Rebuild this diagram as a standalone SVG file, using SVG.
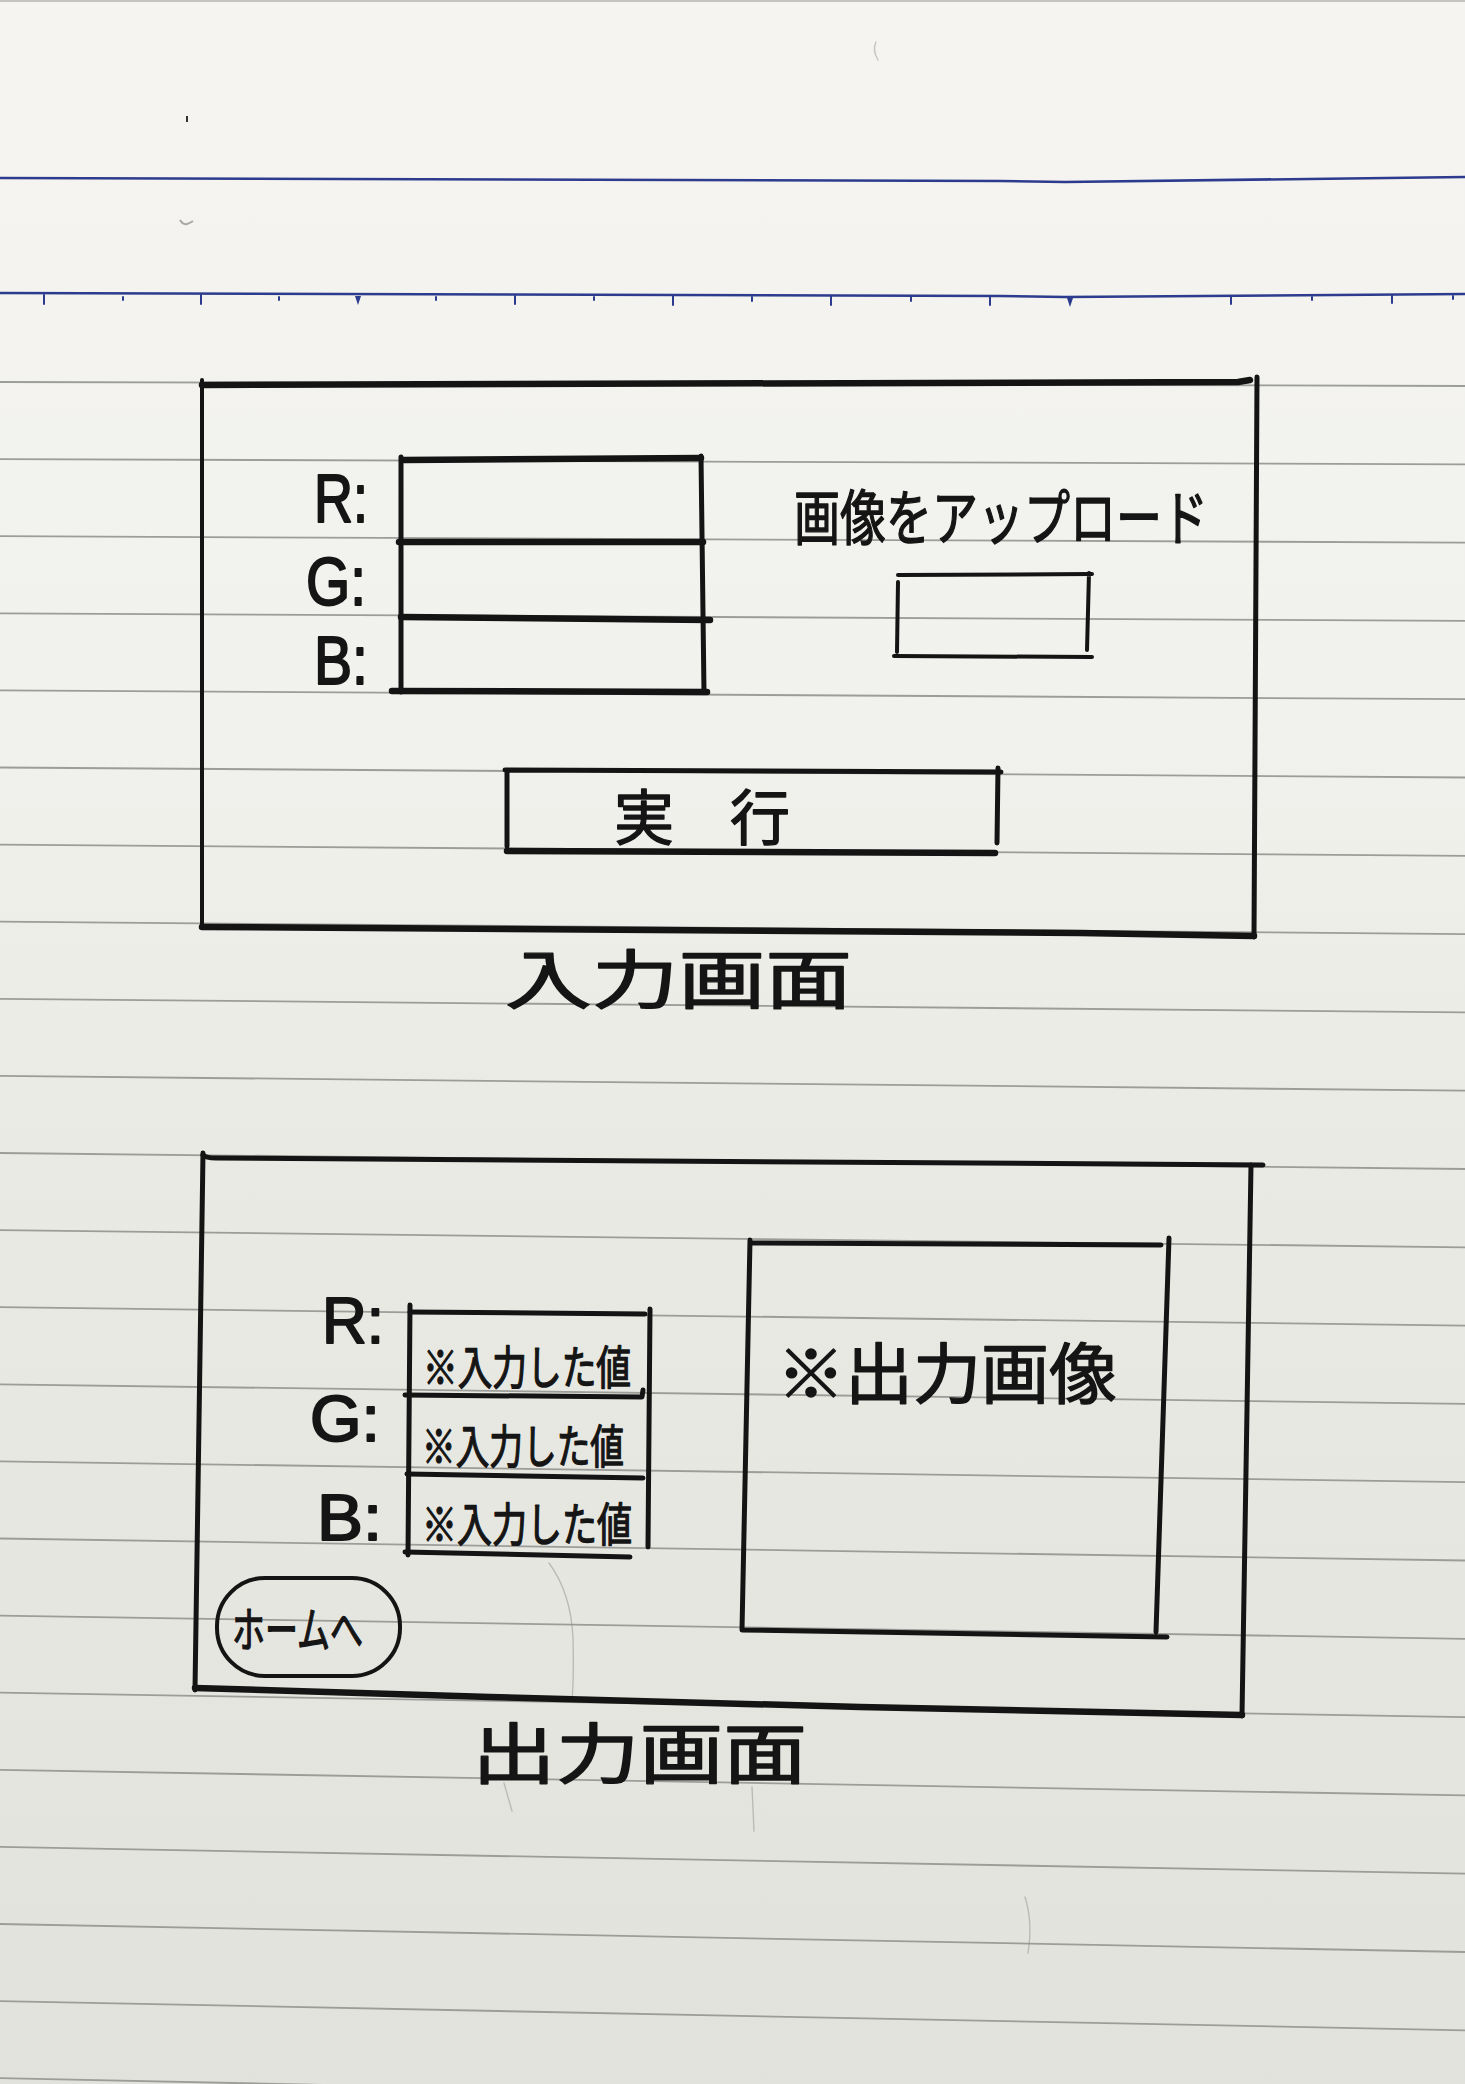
<svg xmlns="http://www.w3.org/2000/svg" width="1465" height="2084" viewBox="0 0 1465 2084">
<defs>
<linearGradient id="paper" x1="0" y1="0" x2="0" y2="1">
<stop offset="0" stop-color="#f5f4f0"/>
<stop offset="0.35" stop-color="#f1f1ed"/>
<stop offset="0.55" stop-color="#e9eae4"/>
<stop offset="1" stop-color="#e1e2dc"/>
</linearGradient>
<style>
.rule{stroke:#9c9d99;stroke-width:1.8;fill:none}
.blue{stroke:#2c3b8e;stroke-width:2.6;fill:none}
.tick{stroke:#2c3b8e;stroke-width:2;fill:none;stroke-linecap:round}
.ink{stroke:#141414;fill:none;stroke-linecap:round;stroke-linejoin:round;stroke-width:5}
.thick{stroke-width:6.5}
.thin{stroke-width:4}
.faint{stroke:#8a8a86;fill:none;stroke-width:1.4;opacity:0.45;stroke-linecap:round}
.lat{font-family:"Liberation Sans",Arial,sans-serif;fill:#151515;stroke:#151515;stroke-width:2;stroke-linejoin:round}
.jp{font-family:"Noto Sans CJK JP","Noto Sans CJK SC",sans-serif;fill:#151515;stroke:#151515;stroke-width:1.4;stroke-linejoin:round}
</style>
</defs>
<rect x="0" y="0" width="1465" height="2084" fill="url(#paper)"/>
<line x1="0" y1="1" x2="1465" y2="1" stroke="#c4c4c0" stroke-width="2"/>

<g id="paper-lines">
<path class="blue" d="M0,178 C400,178 700,179 1000,181 L1065,182 C1120,181 1250,179 1465,177"/>
<path class="blue" d="M0,293 C400,294 700,295 1000,296 L1065,297 C1120,296 1250,295 1465,294"/>
<g id="ticks">
<path class="tick" d="M44,295V304M201,295V304M515,296V304M673,296V305M831,296V305M990,297V305M1231,296V304M1392,295V303"/>
<path class="tick" d="M123,297V300M279,297V300M436,297V300M594,297V300M752,297V301M911,297V301M1312,297V300M1453,296V299"/>
<path d="M355,296L361,296L358,305Z M1067,298L1073,298L1070,307Z" fill="#2c3b8e"/>
</g>
<path class="rule" d="M0,382L1465,386"/>
<path class="rule" d="M0,459.1L1465,464.3"/>
<path class="rule" d="M0,536.2L1465,542.6"/>
<path class="rule" d="M0,613.3L1465,620.9"/>
<path class="rule" d="M0,690.4L1465,699.2"/>
<path class="rule" d="M0,767.5L1465,777.5"/>
<path class="rule" d="M0,844.6L1465,855.8"/>
<path class="rule" d="M0,921.7L1465,934.1"/>
<path class="rule" d="M0,998.8L1465,1012.4"/>
<path class="rule" d="M0,1075.9L1465,1090.7"/>
<path class="rule" d="M0,1153L1465,1169"/>
<path class="rule" d="M0,1230.1L1465,1247.3"/>
<path class="rule" d="M0,1307.2L1465,1325.6"/>
<path class="rule" d="M0,1384.3L1465,1403.9"/>
<path class="rule" d="M0,1461.4L1465,1482.2"/>
<path class="rule" d="M0,1538.5L1465,1560.5"/>
<path class="rule" d="M0,1615.6L1465,1638.8"/>
<path class="rule" d="M0,1692.7L1465,1717.1"/>
<path class="rule" d="M0,1769.8L1465,1795.4"/>
<path class="rule" d="M0,1846.9L1465,1873.7"/>
<path class="rule" d="M0,1924L1465,1952"/>
<path class="rule" d="M0,2001.1L1465,2030.3"/>
<path class="rule" d="M0,2078.2L1465,2108.6"/>
<path d="M187,116V122" stroke="#333" stroke-width="2"/>
<path d="M180,220q3,5 7,4q3,-1 6,-3" stroke="#777" stroke-width="2" fill="none" opacity="0.6"/>
<path class="faint" d="M876,42q-4,8 2,18"/>
<path class="faint" d="M549,1563q22,30 24,75q1,40 -1,62"/>
<path class="faint" d="M504,1783l8,28M752,1787l2,44"/>
<path class="faint" d="M1025,1897q8,25 3,56"/>
</g>

<g id="input-screen">
<g id="input-frame">
<path class="ink thick" d="M202,385L1238,382L1250,380"/>
<path class="ink thin" d="M202,380L202,927"/>
<path class="ink" d="M1257,377L1254,937"/>
<path class="ink thick" d="M202,927L1080,933L1254,936"/>
</g>
<g id="input-rgb-table">
<text class="lat" x="314" y="522" font-size="68" textLength="54" lengthAdjust="spacingAndGlyphs">R:</text>
<text class="lat" x="306" y="605" font-size="68" textLength="60" lengthAdjust="spacingAndGlyphs">G:</text>
<text class="lat" x="314" y="684" font-size="68" textLength="54" lengthAdjust="spacingAndGlyphs">B:</text>
<path class="ink thick" d="M404,460L701,458"/>
<path class="ink" d="M401,457L401,692"/>
<path class="ink" d="M701,456L704,692"/>
<path class="ink thick" d="M399,542L703,542"/>
<path class="ink thick" d="M401,617L710,620"/>
<path class="ink thick" d="M392,691L707,692"/>
</g>
<g id="upload">
<text class="jp" x="794" y="540" font-size="60" textLength="414" lengthAdjust="spacingAndGlyphs">画像をアップロード</text>
<path class="ink thin" d="M898,575L1092,574M898,582L897,652M1089,573L1087,650M894,656L1092,657"/>
</g>
<g id="run-button">
<path class="ink" d="M505,770L1001,772M507,770L507,846M998,768L997,843"/>
<path class="ink thick" d="M507,851L995,853"/>
<text class="jp" x="614" y="840" font-size="60" textLength="176">実 行</text>
</g>
<text id="input-caption" class="jp" x="505" y="1003" font-size="64" textLength="347" lengthAdjust="spacingAndGlyphs">入力画面</text>
</g>

<g id="output-screen">
<g id="output-frame">
<path class="ink" d="M203,1155Q206,1158 216,1158L1263,1165"/>
<path class="ink" d="M203,1153L195,1690"/>
<path class="ink" d="M1251,1165L1242,1716"/>
<path class="ink thick" d="M195,1688L490,1697L860,1707L1242,1715"/>
</g>
<g id="output-rgb-table">
<text class="lat" x="322" y="1343" font-size="64" textLength="62" lengthAdjust="spacingAndGlyphs">R:</text>
<text class="lat" x="310" y="1441" font-size="64" textLength="70" lengthAdjust="spacingAndGlyphs">G:</text>
<text class="lat" x="317" y="1540" font-size="64" textLength="65" lengthAdjust="spacingAndGlyphs">B:</text>
<path class="ink" d="M410,1305L408,1555"/>
<path class="ink" d="M410,1312L645,1314"/>
<path class="ink" d="M650,1309L648,1547"/>
<path class="ink" d="M405,1395L642,1397L643,1390"/>
<path class="ink" d="M407,1474L643,1478"/>
<path class="ink" d="M405,1552L630,1557"/>
<text class="jp" x="423" y="1384" font-size="46" textLength="208" lengthAdjust="spacingAndGlyphs">※入力した値</text>
<text class="jp" x="422" y="1463" font-size="46" textLength="202" lengthAdjust="spacingAndGlyphs">※入力した値</text>
<text class="jp" x="422" y="1541" font-size="46" textLength="210" lengthAdjust="spacingAndGlyphs">※入力した値</text>
</g>
<g id="output-image">
<path class="ink" d="M750,1243L1161,1245M750,1240L742,1630M1169,1238L1156,1632M742,1630L1167,1637"/>
<text class="jp" x="777" y="1398" font-size="66" textLength="340" lengthAdjust="spacingAndGlyphs">※出力画像</text>
</g>
<g id="home-button">
<rect class="ink thin" x="217" y="1578" width="183" height="98" rx="48" ry="48"/>
<text class="jp" x="232" y="1647" font-size="48" textLength="131" lengthAdjust="spacingAndGlyphs">ホームへ</text>
</g>
<text id="output-caption" class="jp" x="472" y="1778" font-size="66" textLength="335" lengthAdjust="spacingAndGlyphs">出力画面</text>
</g>

<g id="connectors"/>
</svg>
